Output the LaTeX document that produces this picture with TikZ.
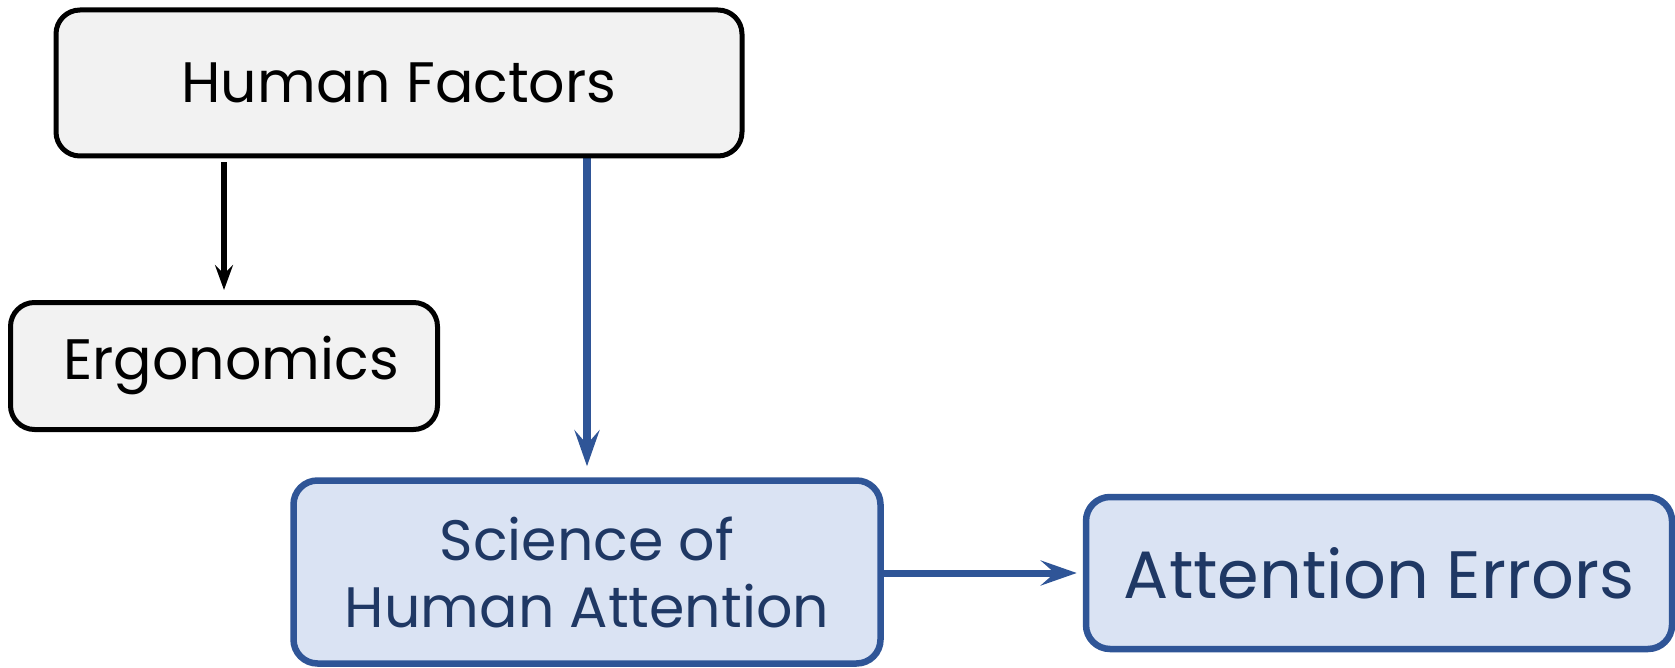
\documentclass[tikz,border=0pt]{standalone}
\usepackage{fontspec}
\setmainfont{Poppins}
\usetikzlibrary{arrows.meta}
\pgfdeclarelayer{edgelayer}
\pgfdeclarelayer{nodelayer}
\pgfsetlayers{edgelayer,nodelayer,main}
\definecolor{boxgray}{HTML}{F2F2F2}
\definecolor{boxblue}{HTML}{DAE3F3}
\definecolor{lineblue}{HTML}{2F5597}
\definecolor{textblue}{HTML}{1F3864}
\tikzstyle{none}=[inner sep=0pt]
\tikzstyle{graybox}=[rectangle,rounded corners=24pt,fill=boxgray,draw=black,line width=5pt,font=\fontsize{57}{62}\selectfont]
\tikzstyle{bluebox}=[rectangle,rounded corners=24pt,fill=boxblue,draw=lineblue,line width=6.5pt,text=textblue,align=center,font=\fontsize{57}{67}\selectfont]
\tikzstyle{blackarrow}=[-{Stealth[length=25pt,width=18pt,inset=9pt]},draw=black,line width=5.5pt]
\tikzstyle{bluearrow}=[-{Stealth[length=36pt,width=25pt,inset=14pt]},draw=lineblue,line width=8.5pt]

\begin{document}
\begin{tikzpicture}[x=1pt,y=1pt]
	\useasboundingbox (0,0) rectangle (1675,-668);
	\begin{pgfonlayer}{nodelayer}
		\node [style=graybox, minimum width=686pt, minimum height=146pt] (0) at (399, -83) {Human Factors};
		\node [style=graybox, minimum width=427pt, minimum height=127pt, text width=427pt, align=center, inner xsep=0pt] (1) at (224, -366) {\hspace*{14pt}Ergonomics};
		\node [style=bluebox, minimum width=587pt, minimum height=183pt] (2) at (587, -572) {Science of\\Human Attention};
		\node [style=bluebox, minimum width=586pt, minimum height=152pt, font=\fontsize{67}{67}\selectfont] (3) at (1379, -573) {Attention Errors};
	\end{pgfonlayer}
	\begin{pgfonlayer}{edgelayer}
		\draw [style=blackarrow, shorten <=4pt, shorten >=10pt] (0.south -| 1.north) to (1.north);
		\draw [style=bluearrow, shorten >=11pt] (0.south -| 2.north) to (2.north);
		\draw [style=bluearrow, line width=7pt, shorten >=6pt] (2.east |- 3.west) to (3.west);
	\end{pgfonlayer}
\end{tikzpicture}
\end{document}
